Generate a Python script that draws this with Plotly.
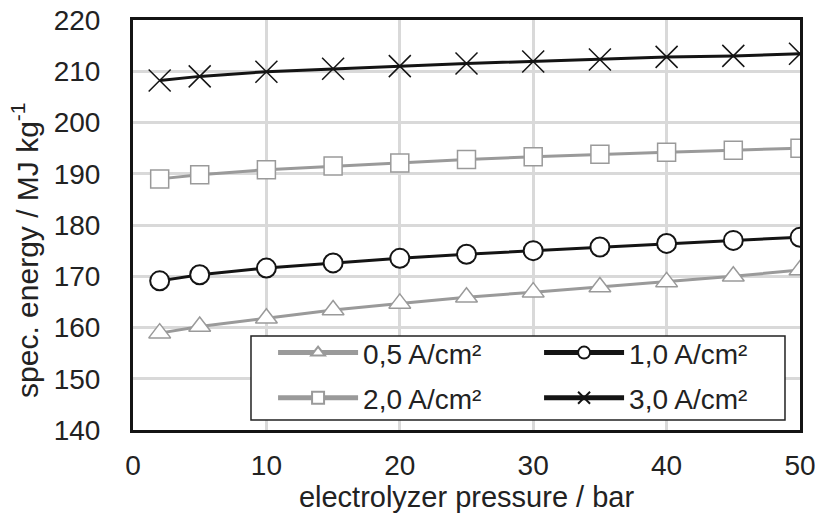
import plotly.graph_objects as go

# Electrolyzer pressure (bar)
pressure = [2, 5, 10, 15, 20, 25, 30, 35, 40, 45, 50]

# Specific energy (MJ/kg) for each current density
e_05 = [158.9, 160.2, 161.8, 163.4, 164.7, 165.9, 166.9, 167.9, 168.9, 170.0, 171.2]
e_10 = [169.1, 170.3, 171.6, 172.6, 173.5, 174.3, 175.0, 175.7, 176.4, 177.0, 177.6]
e_20 = [189.0, 189.8, 190.8, 191.5, 192.1, 192.8, 193.3, 193.8, 194.2, 194.6, 195.0]
e_30 = [208.2, 209.0, 209.9, 210.5, 211.0, 211.5, 211.9, 212.3, 212.8, 213.0, 213.4]

names = ["0,5 A/cm²", "1,0 A/cm²", "2,0 A/cm²", "3,0 A/cm²"]
x_ticks = [0, 10, 20, 30, 40, 50]
y_ticks = [140, 150, 160, 170, 180, 190, 200, 210, 220]

GRAY = "#9a9a9a"
BLACK = "#141414"
TEXT = "#222222"

# (values, name, line colour, marker symbol, marker size, outline width, legend row)
series = [
    (e_05, names[0], GRAY, "triangle-up", 19, 1.5, "legend"),
    (e_10, names[1], BLACK, "circle", 19, 2, "legend"),
    (e_20, names[2], GRAY, "square", 18, 1.5, "legend2"),
    (e_30, names[3], BLACK, "x-thin", 22, 1.5, "legend2"),
]

fig = go.Figure()
for vals, name, color, symbol, size, lw, leg in series:
    is_x = symbol == "x-thin"
    fig.add_trace(go.Scatter(
        x=pressure, y=vals, name=name, mode="lines+markers",
        legend=leg,
        line=dict(color=color, width=3),
        marker=dict(
            symbol=symbol, size=size,
            color="white" if not is_x else BLACK,
            line=dict(color=color, width=lw),
        ),
    ))

font_family = "Liberation Sans, Arial, sans-serif"
FS = 28

legend_common = dict(
    orientation="h", xanchor="left", yanchor="middle",
    entrywidth=171, entrywidthmode="pixels", itemwidth=80,
    itemsizing="constant", bgcolor="rgba(0,0,0,0)", borderwidth=0,
    font=dict(size=FS, family=font_family, color=TEXT),
    traceorder="normal",
)

fig.update_layout(
    width=815, height=523,
    margin=dict(l=133, r=15, t=20, b=93, autoexpand=False),
    paper_bgcolor="white", plot_bgcolor="white",
    font=dict(family=font_family, size=FS, color=TEXT),
    showlegend=True,
    legend=dict(x=0.21, y=0.188, **legend_common),
    legend2=dict(x=0.21, y=0.078, **legend_common),
    # framed white box behind the two legend rows
    shapes=[dict(
        type="rect", xref="paper", yref="paper",
        x0=0.1769, x1=0.9775, y0=0.0244, y1=0.229,
        line=dict(color=TEXT, width=1.5), fillcolor="white", layer="above",
    )],
    # vertical axis title, set slightly below the axis centre
    annotations=[dict(
        text="spec. energy / MJ kg<sup>-1</sup>", textangle=-90,
        xref="paper", yref="paper", x=-0.162, y=0.439,
        xanchor="center", yanchor="middle", showarrow=False,
        font=dict(size=30, family=font_family, color=TEXT),
    )],
    xaxis=dict(
        range=[0, 50], tickvals=x_ticks, showgrid=True,
        gridcolor="#d9d9d9", gridwidth=2.5,
        showline=True, linecolor=BLACK, linewidth=3, mirror=True,
        ticks="", ticklabelstandoff=8, zeroline=False,
        ticklabeloverflow="allow", automargin=False,
        title=dict(text="electrolyzer pressure / bar", standoff=4,
                   font=dict(size=29)),
        tickfont=dict(size=FS),
    ),
    yaxis=dict(
        range=[140, 220], tickvals=y_ticks, showgrid=True,
        gridcolor="#d9d9d9", gridwidth=2.5,
        showline=True, linecolor=BLACK, linewidth=3, mirror=True,
        ticks="", ticklabelstandoff=24, zeroline=False,
        ticklabeloverflow="allow", automargin=False,
        tickfont=dict(size=FS),
    ),
)

fig.write_html("out.html")
